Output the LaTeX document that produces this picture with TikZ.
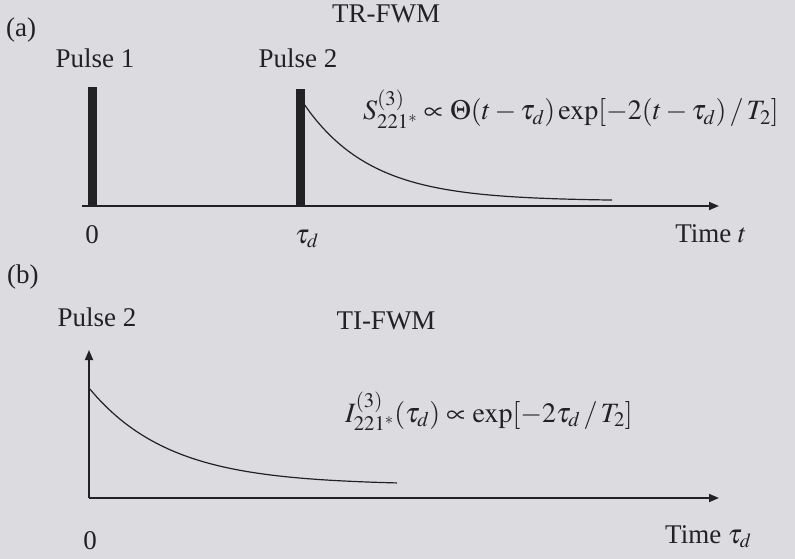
\documentclass[tikz,border=0pt]{standalone}
\usepackage{mathptmx}
\usepackage[no-math]{fontspec}
\setmainfont{Liberation Serif}
\usetikzlibrary{arrows.meta}
\definecolor{paper}{RGB}{220,219,224}
\definecolor{ink}{RGB}{34,34,36}
\tikzset{lbl/.style={text=ink,font=\fontsize{27}{32}\selectfont,inner sep=0pt},
  formula/.style={lbl,font=\fontsize{28}{33}\selectfont,anchor=base west},
  axis/.style={draw=ink,line width=1.7pt,-{Triangle[length=10pt,width=8pt]}},
  pulse/.style={draw=ink,line width=9pt},
  decay/.style={draw=ink,line width=1.2pt}}

\begin{document}
\begin{tikzpicture}[x=1pt,y=-1pt]
  \fill[paper] (0,0) rectangle (795,559);
  \useasboundingbox (0,0) rectangle (795,559);
  % (a) time resolved
  \node[lbl,anchor=base west] (laba) at (6,37) {(a)};
  \node[lbl,anchor=base] (tra) at (386,23) {TR-FWM};
  \node[lbl,anchor=base] (pulsea1) at (95,68) {Pulse 1};
  \node[lbl,anchor=base] (pulsea2) at (298,68) {Pulse 2};
  \coordinate (oa) at (82,206);
  \coordinate (enda) at (719,206);
  \coordinate (p1bot) at (92.5,206);
  \coordinate (p1top) at (92.5,87);
  \coordinate (p2bot) at (300,206);
  \coordinate (p2top) at (300,89);
  \draw[pulse] (p1bot) -- (p1top);
  \draw[pulse] (p2bot) -- (p2top);
  \draw[axis] (oa) -- (enda);
  \draw[decay] plot[domain=0:308,samples=70] ({304+\x},{201-97*exp(-0.015*\x)});
  \node[formula] (siga) at (363,120)
    {$S^{(3)}_{221^*}\propto\Theta(t-\tau_d)\exp[-2(t-\tau_d)\,/\,T_2]$};
  \node[lbl,anchor=base] (zeroa) at (92,243) {0};
  \node[lbl,anchor=base west] (taua) at (295,243) {$\tau_d$};
  \node[lbl,anchor=base] (timea) at (711,242) {Time $t$};
  % (b) time integrated
  \node[lbl,anchor=base west] (labb) at (7,283) {(b)};
  \node[lbl,anchor=base] (tib) at (386,329) {TI-FWM};
  \node[lbl,anchor=base] (pulseb2) at (97,326) {Pulse 2};
  \coordinate (ob) at (89,498);
  \coordinate (topb) at (89,350);
  \coordinate (endb) at (719,498);
  \draw[axis] (ob) -- (topb);
  \draw[axis] (ob) -- (endb);
  \draw[decay] plot[domain=0:308,samples=70] ({89+\x},{485-97*exp(-0.0125*\x)});
  \node[formula] (sigb) at (345,422)
    {$I^{(3)}_{221^*}(\tau_d)\propto\exp[-2\tau_d\,/\,T_2]$};
  \node[lbl,anchor=base] (zerob) at (90,549) {0};
  \node[lbl,anchor=base west] (timeb) at (665,543) {Time $\tau_d$};
\end{tikzpicture}
\end{document}
